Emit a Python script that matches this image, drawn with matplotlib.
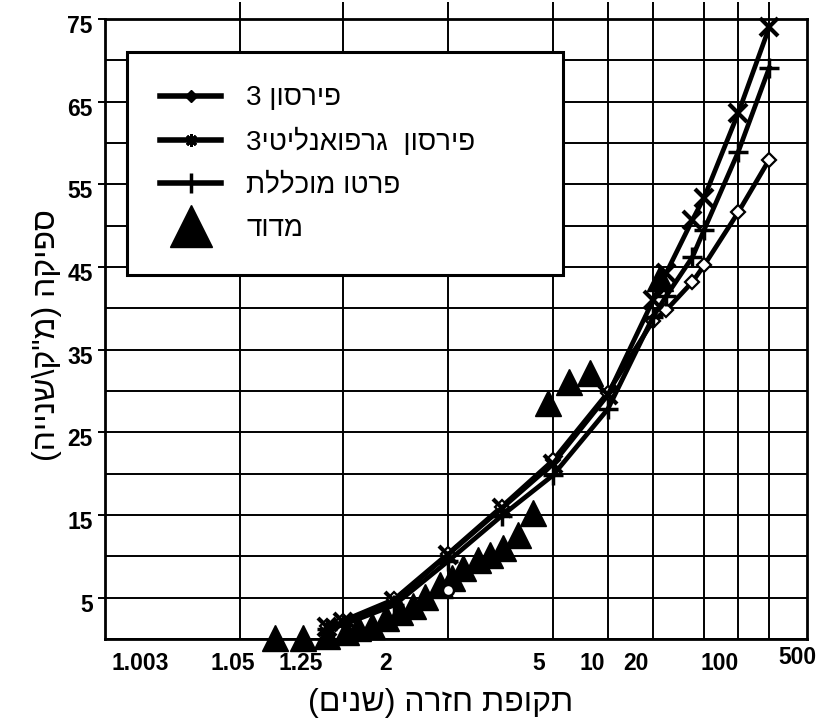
import numpy as np
import matplotlib
matplotlib.use('Agg')
import matplotlib.pyplot as plt
from matplotlib.lines import Line2D
import matplotlib.transforms as mtransforms
from statistics import NormalDist

ND = NormalDist()

# ---------------- data ----------------
curve_T = [1.2, 1.25, 1.5, 2, 3, 5, 10, 20, 25, 40, 50, 100, 200]
pearson3 = [1.6, 2.2, 4.8, 10.3, 16.0, 21.6, 29.8, 38.5, 39.8, 43.2, 45.2, 51.6, 58.0]
pearson3_ga = [1.5, 2.0, 4.6, 10.2, 15.8, 21.2, 29.5, 41.0, 44.3, 50.7, 53.4, 63.6, 74.0]
gen_pareto = [1.2, 1.7, 4.1, 9.4, 14.9, 19.8, 27.8, 39.0, 41.5, 46.2, 49.5, 58.9, 69.1]

measured_T = [1.09, 1.14, 1.20, 1.26, 1.31, 1.37, 1.45, 1.54, 1.64, 1.75, 1.90,
              2.05, 2.21, 2.47, 2.72, 3.03, 3.48, 4.03, 4.73, 6.02, 7.84, 22.4]
measured_Q = [0.1, 0.1, 0.4, 0.8, 1.3, 1.6, 2.5, 3.3, 4.0, 5.1, 6.5,
              7.4, 8.6, 9.5, 10.2, 11.0, 12.6, 15.2, 28.5, 31.1, 32.2, 43.7]

circle_T = [2.0]
circle_Q = [5.9]

x_tick_values = [1.003, 1.05, 1.25, 2, 5, 10, 20, 100, 500]
x_tick_labels = ['1.003', '1.05', '1.25', '2', '5', '10', '20', '100', '500']
x_grid_values = [1.05, 1.25, 2, 5, 10, 20, 50, 100, 200]
y_tick_values = [5, 15, 25, 35, 45, 55, 65, 75]
y_grid_values = list(range(0, 80, 5))

series_names = ['פירסון 3', 'פירסון  גרפואנליטי3', 'פרטו מוכללת', 'מדוד']
x_title = 'תקופת חזרה (שנים)'
y_title = 'ספיקה (מ"ק\\שנייה)'

# ---------------- helpers ----------------
def rtl(s):
    r = s[::-1]
    return r.translate(str.maketrans('()', ')('))

_inv_cdf = np.vectorize(ND.inv_cdf, otypes=[float])
_cdf = np.vectorize(ND.cdf, otypes=[float])

def fwd(T):
    T = np.asarray(T, dtype=float)
    p = 1.0 - 1.0 / np.clip(T, 1.0000001, 1e9)
    p = np.clip(p, 1e-9, 1 - 1e-9)
    return _inv_cdf(p)

def inv(z):
    z = np.asarray(z, dtype=float)
    c = np.clip(_cdf(z), 0, 1 - 1e-12)
    return 1.0 / (1.0 - c)

FONT = ['Liberation Sans', 'DejaVu Sans']
plt.rcParams['font.family'] = FONT

fig = plt.figure(figsize=(8.27, 7.25), dpi=100)
ax = fig.add_axes([105/827, 86/725, 702/827, 620/725])
ax.set_xscale('function', functions=(fwd, inv))
ax.set_xlim(1.003, 500)
ax.set_ylim(0, 75)

# grid
for g in x_grid_values:
    ax.axvline(g, color='k', lw=1.4, zorder=1)
for g in y_grid_values:
    ax.axhline(g, color='k', lw=1.4, zorder=1)

# ticks
ax.set_xticks(x_grid_values, minor=True)
ax.set_xticks([])
ax.tick_params(axis='x', which='minor', bottom=False, top=True, direction='out',
               length=12, width=1.4, labelbottom=False)
ax.set_yticks(y_tick_values)
ax.set_yticklabels([str(v) for v in y_tick_values], fontsize=16.5, fontweight='bold')
ax.tick_params(axis='y', which='major', left=True, direction='out', length=5, width=1.4, pad=4)
off = mtransforms.ScaledTranslation(0, -5/100, fig.dpi_scale_trans)
for lab in ax.get_yticklabels():
    lab.set_transform(lab.get_transform() + off)

for s in ax.spines.values():
    s.set_linewidth(2)

# x tick labels (placed as on the reference sheet)
label_dx = [35, -7, -42, -62, -14, -16, -17, -19, -10]
label_dy = [0, 0, 0, 0, 0, 0, 0, 0, 5]
btrans = mtransforms.blended_transform_factory(ax.transData, ax.transAxes)
for v, t, dx, dy in zip(x_tick_values, x_tick_labels, label_dx, label_dy):
    tr = btrans + mtransforms.ScaledTranslation(dx/100, dy/100, fig.dpi_scale_trans)
    ax.text(v, -24/620, t, transform=tr, ha='center', va='center',
            fontsize=16.5, fontweight='bold', clip_on=False)

# curves
lw = 3.4
ax.plot(curve_T, pearson3, color='k', lw=lw, marker='D', ms=7, mfc='white',
        mec='k', mew=1.6, zorder=4, clip_on=False)
ax.plot(curve_T, pearson3_ga, color='k', lw=lw, marker='x', ms=13, mew=3,
        zorder=4, clip_on=False)
ax.plot(curve_T, gen_pareto, color='k', lw=lw, marker='+', ms=14, mew=2.5,
        zorder=4, clip_on=False)
ax.plot(measured_T, measured_Q, ls='none', marker='^', ms=19, color='k',
        zorder=5, clip_on=False)
ax.plot(circle_T, circle_Q, ls='none', marker='o', ms=8, mfc='white', mec='k',
        mew=1.8, zorder=6)

# legend
handles = [
    Line2D([], [], color='k', lw=4, marker='D', ms=6),
    Line2D([], [], color='k', lw=4, marker=(8, 2, 0), ms=9, mew=2),
    Line2D([], [], color='k', lw=4, marker='|', ms=14, mew=2.5),
    Line2D([], [], ls='none', marker='^', ms=30, color='k'),
]
leg = ax.legend(handles, [rtl(s) for s in series_names], loc='upper left',
                bbox_to_anchor=(22/702, 587/620, 436/702, 0.0), mode='expand',
                prop={'family': FONT, 'size': 20}, frameon=True, fancybox=False,
                edgecolor='k', framealpha=1, handlelength=2.2, handletextpad=0.9,
                borderpad=1.2, labelspacing=0.6, borderaxespad=0)
leg.get_frame().set_linewidth(2.2)
leg.set_zorder(10)

fig.text(441/827, 1 - 703/725, rtl(x_title), ha='center', va='center', fontsize=23)
fig.text(47/827, 1 - 335/725, rtl(y_title), ha='center', va='center', fontsize=23,
         rotation=90)

fig.savefig('out.png', dpi=100)
